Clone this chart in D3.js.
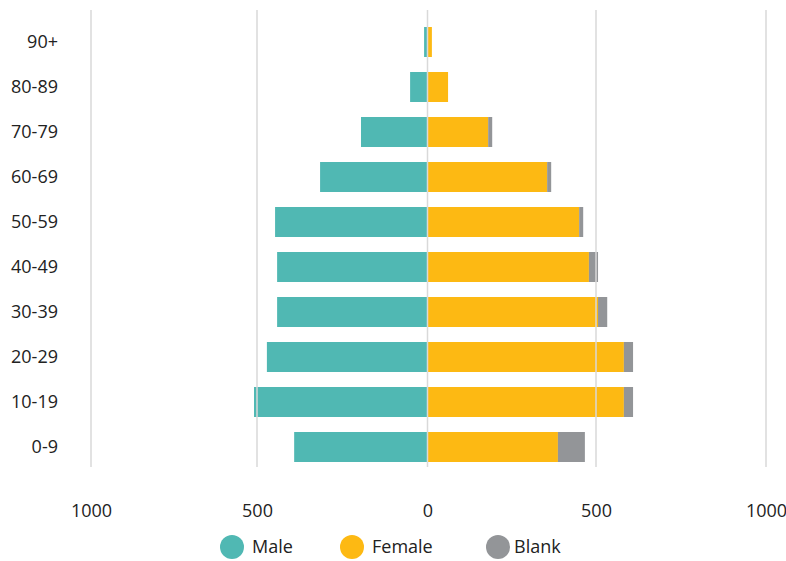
<!DOCTYPE html>
<html>
<head>
<meta charset="utf-8">
<script src="https://cdn.jsdelivr.net/npm/d3@7"></script>
<style>
  html, body { margin: 0; padding: 0; background: #fff; }
  text { font-family: "Open Sans", "Noto Sans", sans-serif; fill: #222; }
</style>
</head>
<body>
<svg id="chart" width="786" height="561"></svg>
<script>
const categories = ["90+", "80-89", "70-79", "60-69", "50-59", "40-49", "30-39", "20-29", "10-19", "0-9"];
const male   = [10, 51, 195, 315, 447, 441, 441, 471, 509, 391];
const female = [13, 61, 180, 355, 450, 479, 506, 582, 582, 387];
const blank  = [0, 0, 12, 12, 12, 27, 27, 27, 27, 80];
const xTicks = [-1000, -500, 0, 500, 1000];
const seriesNames = ["Male", "Female", "Blank"];
const colors = ["#50b8b3", "#fdb913", "#939598"];

const svg = d3.select("#chart");

const x = d3.scaleLinear().domain(xTicks).range([91, 257, 427.5, 596, 766]);
const y = d3.scaleBand().domain(categories).range([19.5, 469.5]).paddingInner(1/3).paddingOuter(1/6);

const rows = categories.map((c, i) => ({ cat: c, male: male[i], female: female[i], blank: blank[i] }));

// bars
const g = svg.append("g");
g.selectAll(".male").data(rows).join("rect")
  .attr("x", d => x(-d.male)).attr("y", d => y(d.cat))
  .attr("width", d => x(0) - x(-d.male)).attr("height", y.bandwidth())
  .attr("fill", colors[0]);
g.selectAll(".female").data(rows).join("rect")
  .attr("x", x(0)).attr("y", d => y(d.cat))
  .attr("width", d => x(d.female) - x(0)).attr("height", y.bandwidth())
  .attr("fill", colors[1]);
g.selectAll(".blank").data(rows.filter(d => d.blank > 0)).join("rect")
  .attr("x", d => x(d.female)).attr("y", d => y(d.cat))
  .attr("width", d => x(d.female + d.blank) - x(d.female)).attr("height", y.bandwidth())
  .attr("fill", colors[2]);

// gridlines on top
svg.append("g").selectAll("line").data(xTicks).join("line")
  .attr("x1", d => x(d)).attr("x2", d => x(d))
  .attr("y1", 10).attr("y2", 467)
  .attr("stroke", "#d9d9d9").attr("stroke-width", 1.5);

// x axis labels
const xAxis = d3.axisBottom(x).tickValues(xTicks).tickFormat(d => Math.abs(d)).tickSize(0).tickPadding(0);
const xa = svg.append("g").attr("transform", "translate(0,511)").call(xAxis);
xa.select(".domain").remove();
xa.selectAll("text").attr("font-size", 18).attr("fill", "#222").attr("dy", "0.35em")
  .style("font-family", "'Open Sans', sans-serif");

// y axis labels
const yAxis = d3.axisLeft(y).tickSize(0).tickPadding(0);
const ya = svg.append("g").attr("transform", "translate(58,0)").call(yAxis);
ya.select(".domain").remove();
ya.selectAll("text").attr("font-size", 18).attr("fill", "#222")
  .style("font-family", "'Open Sans', sans-serif");

// legend
const legendX = [232, 352, 498];
const lg = svg.append("g").selectAll("g").data(seriesNames).join("g")
  .attr("transform", (d, i) => `translate(${legendX[i]},547)`);
lg.append("circle").attr("r", 12).attr("fill", (d, i) => colors[i]);
lg.append("text").attr("x", (d, i) => i === 2 ? 16 : 20).attr("dy", "0.35em")
  .attr("font-size", 18).text(d => d);
</script>
</body>
</html>
